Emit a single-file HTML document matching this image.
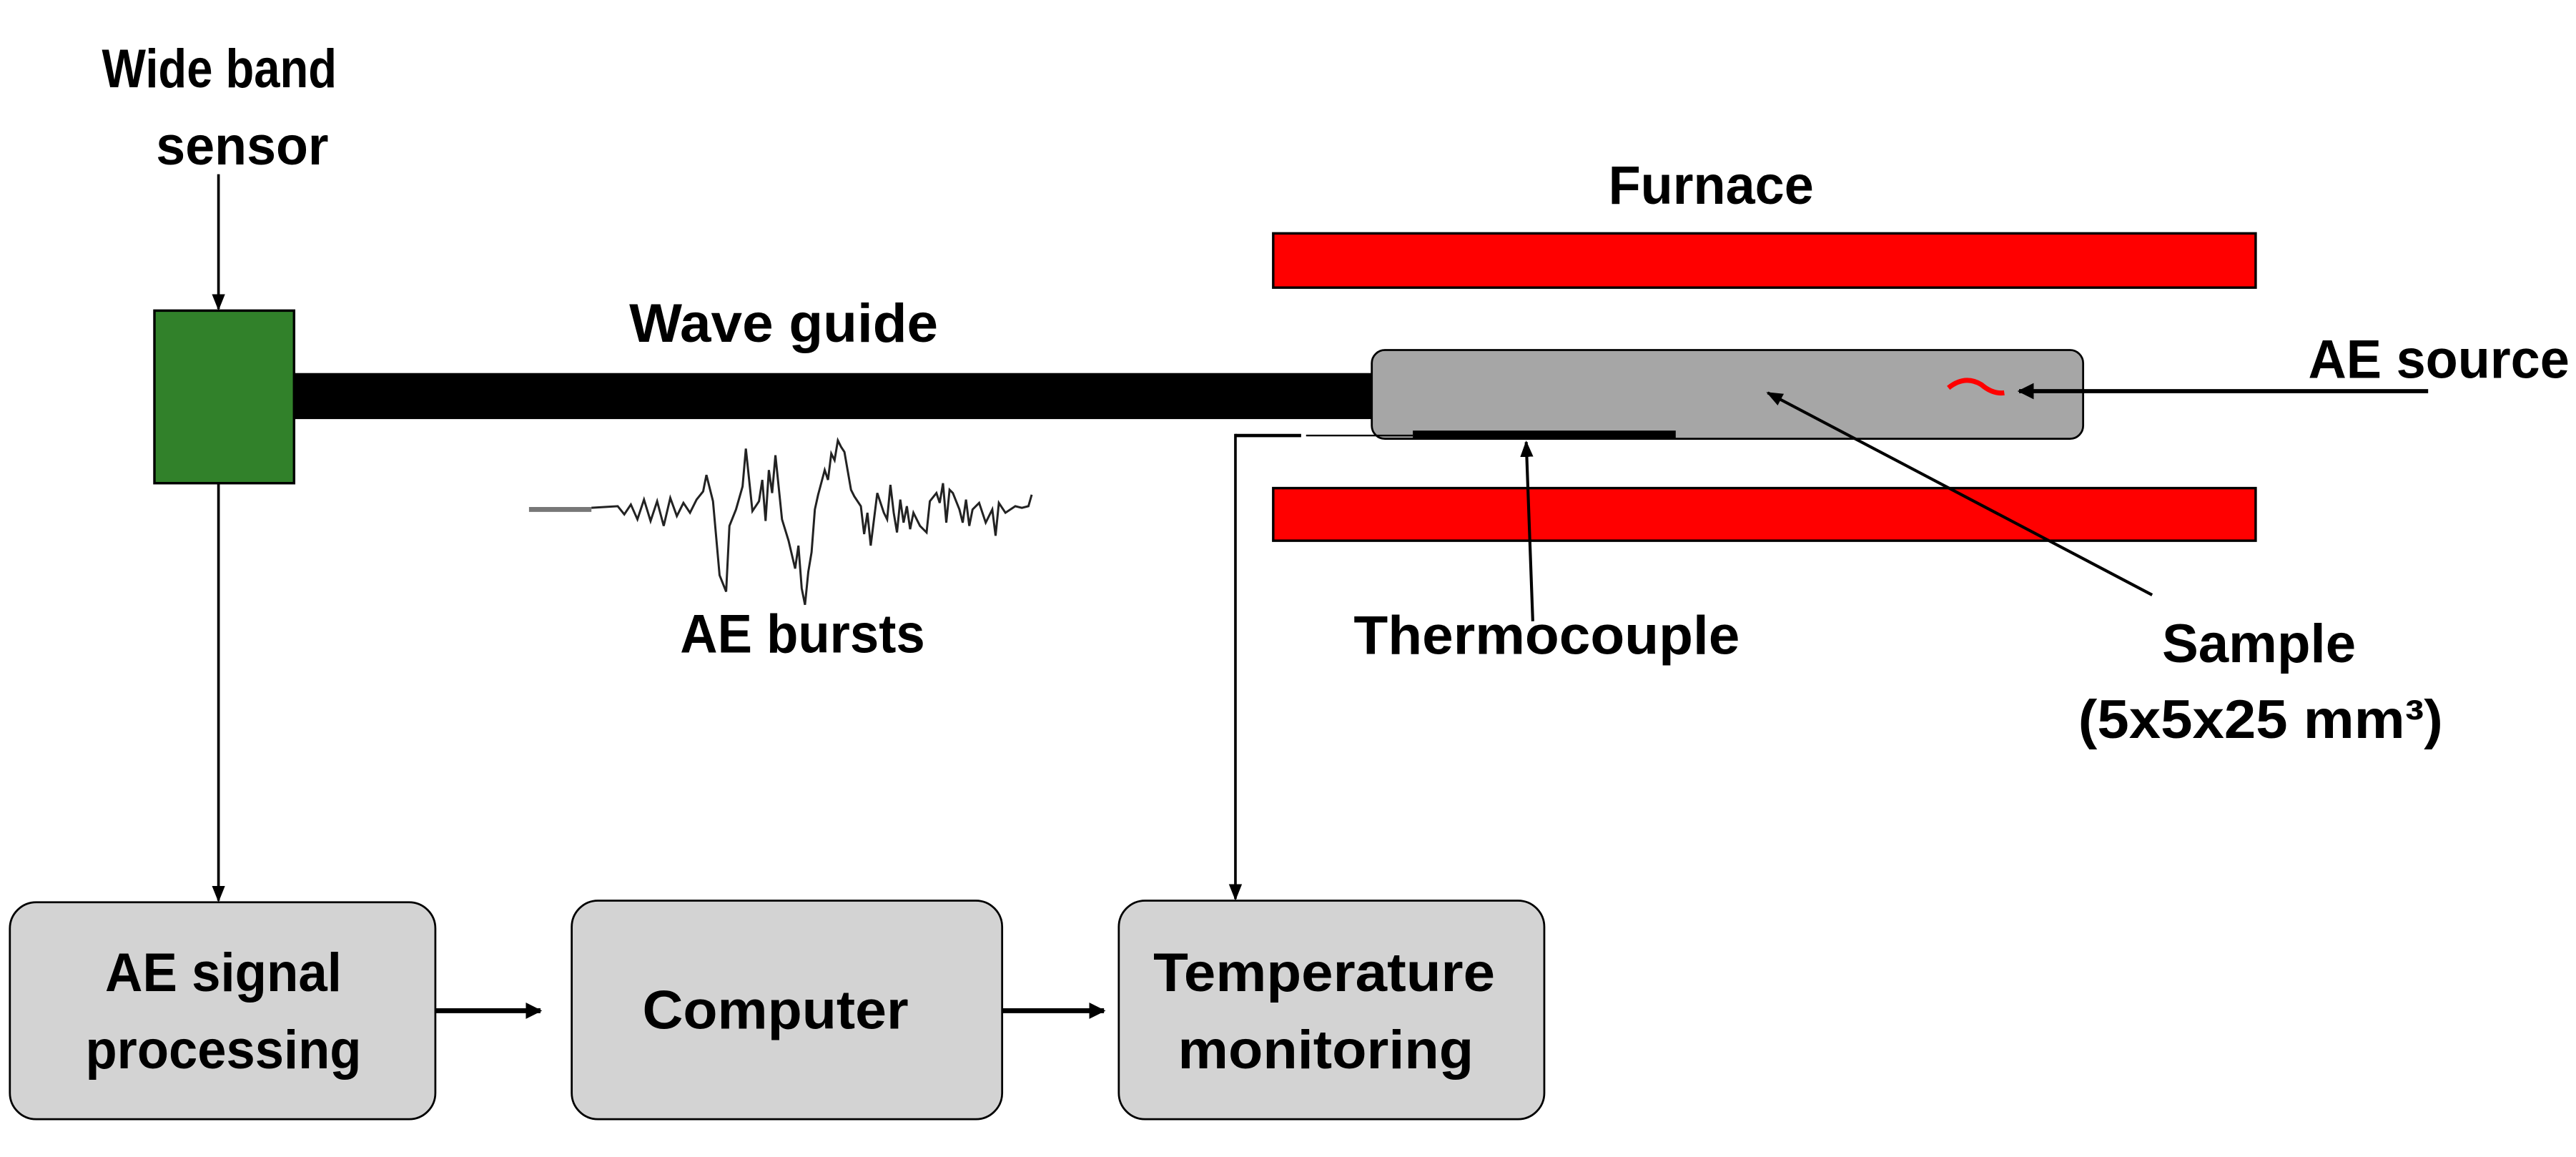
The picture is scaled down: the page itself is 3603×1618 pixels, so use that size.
<!DOCTYPE html>
<html><head><meta charset="utf-8"><style>
html,body{margin:0;padding:0;background:#fff;}
svg{display:block;}
text{font-family:"Liberation Sans",sans-serif;font-weight:bold;fill:#000;}
</style></head><body>
<svg width="3603" height="1618" viewBox="0 0 1568 704" preserveAspectRatio="none" xmlns="http://www.w3.org/2000/svg">
<defs>
<marker id="a" markerWidth="10" markerHeight="10" refX="9" refY="5" orient="auto" markerUnits="userSpaceOnUse"><path d="M0,1 L10,5 L0,9 Z" fill="#000"/></marker>
<marker id="b" markerWidth="10" markerHeight="10" refX="9" refY="5" orient="auto" markerUnits="userSpaceOnUse"><path d="M0,0 L10,5 L0,10 Z" fill="#000"/></marker>
</defs>
<rect width="1568" height="704" fill="#fff"/>
<g font-size="33">
<text x="62" y="53" textLength="143" lengthAdjust="spacingAndGlyphs">Wide band</text>
<text x="95" y="100" textLength="105" lengthAdjust="spacingAndGlyphs">sensor</text>
<text x="383" y="208" textLength="188" lengthAdjust="spacingAndGlyphs">Wave guide</text>
<text x="979" y="124" textLength="125" lengthAdjust="spacingAndGlyphs">Furnace</text>
<text x="1405" y="230" textLength="159" lengthAdjust="spacingAndGlyphs">AE source</text>
<text x="824" y="398" textLength="235" lengthAdjust="spacingAndGlyphs">Thermocouple</text>
<text x="1316" y="403" textLength="118" lengthAdjust="spacingAndGlyphs">Sample</text>
<text x="1265" y="449" textLength="222" lengthAdjust="spacingAndGlyphs">(5x5x25 mm³)</text>
<text x="414" y="397" textLength="149" lengthAdjust="spacingAndGlyphs">AE bursts</text>
</g>
<line x1="133" y1="106" x2="133" y2="188" stroke="#000" stroke-width="1.6" marker-end="url(#a)"/>
<rect x="94" y="189" width="85" height="105" fill="#31812a" stroke="#000" stroke-width="1.5"/>
<rect x="179" y="227" width="657" height="28" fill="#000"/>
<line x1="133" y1="294" x2="133" y2="548" stroke="#000" stroke-width="1.6" marker-end="url(#a)"/>
<rect x="775" y="142" width="598" height="33" fill="#ff0000" stroke="#000" stroke-width="1.5"/>
<rect x="775" y="297" width="598" height="32" fill="#ff0000" stroke="#000" stroke-width="1.5"/>
<rect x="835" y="213" width="433" height="54" rx="8" fill="#a6a6a6" stroke="#000" stroke-width="1.2"/>
<path d="M1186,236 Q1196,228 1206,234 Q1213,240 1220,239" fill="none" stroke="#ff0000" stroke-width="3"/>
<line x1="1478" y1="238" x2="1229" y2="238" stroke="#000" stroke-width="2.5" marker-end="url(#b)"/>
<line x1="1310" y1="362" x2="1076" y2="239" stroke="#000" stroke-width="1.8" marker-end="url(#a)"/>
<rect x="860" y="262" width="160" height="5" fill="#000"/>
<line x1="795" y1="265" x2="860" y2="265" stroke="#000" stroke-width="1"/>
<line x1="752" y1="265" x2="792" y2="265" stroke="#000" stroke-width="2"/>
<line x1="933" y1="378" x2="929" y2="269" stroke="#000" stroke-width="1.8" marker-end="url(#a)"/>
<line x1="752" y1="264" x2="752" y2="547" stroke="#000" stroke-width="1.6" marker-end="url(#a)"/>
<line x1="322" y1="310" x2="360" y2="310" stroke="#777" stroke-width="3"/>
<polyline fill="none" stroke="#222" stroke-width="1.3" points="360,309 376,308 380,313 384,307 388,316 392,304 396,317 400,305 404,320 408,303 412,314 416,306 420,312 424,304 428,299 430,289 434,305 438,350 442,360 444,320 448,310 452,296 454,273 458,311 462,305 464,292 466,317 468,286 470,300 472,277 476,316 480,329 484,346 486,332 488,358 490,368 492,348 494,336 496,310 498,301 502,286 504,292 506,276 508,280 510,268 512,272 514,275 518,298 520,302 524,308 526,325 528,312 530,332 534,300 538,312 540,316 542,295 544,312 546,324 548,304 550,318 552,308 554,322 556,312 560,320 564,324 566,305 570,300 572,306 574,294 576,318 578,298 580,300 584,310 586,318 588,304 590,320 592,310 596,306 600,318 604,310 606,326 608,306 612,312 618,308 622,309 626,308 628,301"/>
<rect x="6" y="549" width="259" height="132" rx="16" fill="#d3d3d3" stroke="#000" stroke-width="1.2"/>
<rect x="348" y="548" width="262" height="133" rx="16" fill="#d3d3d3" stroke="#000" stroke-width="1.2"/>
<rect x="681" y="548" width="259" height="133" rx="16" fill="#d3d3d3" stroke="#000" stroke-width="1.2"/>
<line x1="265" y1="615" x2="329" y2="615" stroke="#000" stroke-width="3" marker-end="url(#b)"/>
<line x1="610" y1="615" x2="672" y2="615" stroke="#000" stroke-width="3" marker-end="url(#b)"/>
<g font-size="33">
<text x="64" y="603" textLength="144" lengthAdjust="spacingAndGlyphs">AE signal</text>
<text x="52" y="650" textLength="168" lengthAdjust="spacingAndGlyphs">processing</text>
<text x="391" y="626" textLength="162" lengthAdjust="spacingAndGlyphs">Computer</text>
<text x="702" y="603" textLength="208" lengthAdjust="spacingAndGlyphs">Temperature</text>
<text x="717" y="650" textLength="180" lengthAdjust="spacingAndGlyphs">monitoring</text>
</g>
</svg>
</body></html>
